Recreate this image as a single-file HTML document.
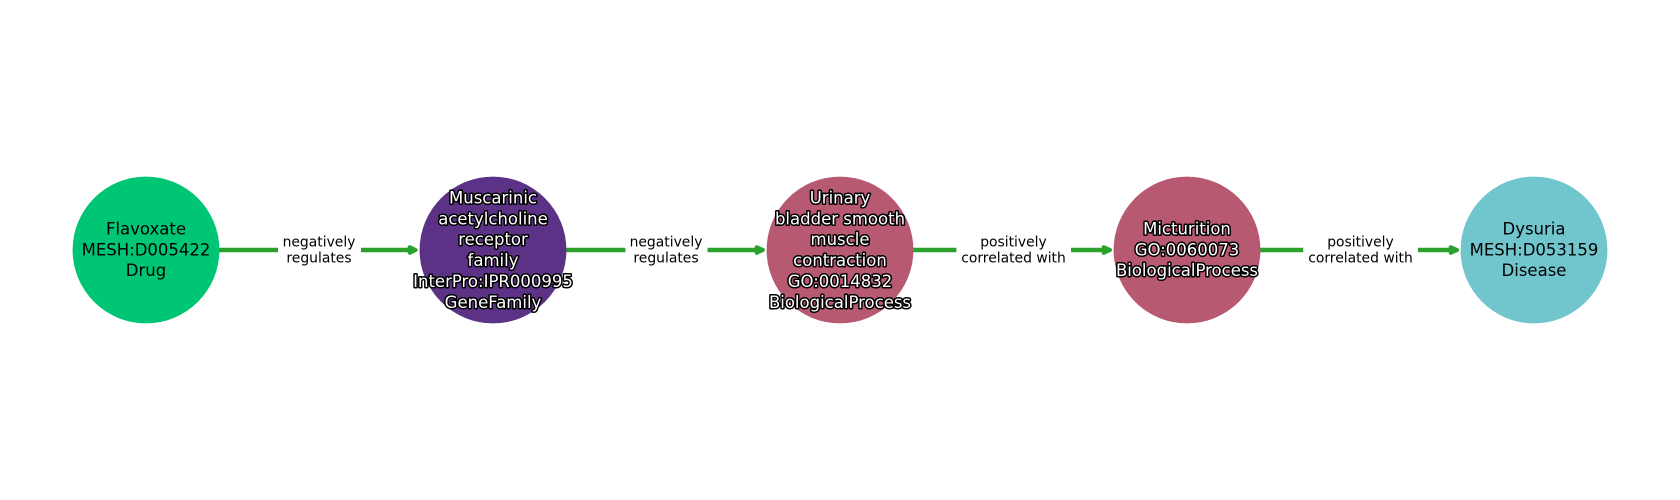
<!DOCTYPE html>
<html><head><meta charset="utf-8"><style>
html,body{margin:0;padding:0;background:#fff}
svg{display:block}
text{font-family:"DejaVu Sans",sans-serif;text-anchor:middle}
.n{font-size:16.5px;fill:#000}
.h{font-size:16.5px;fill:#fff;stroke:#000;stroke-width:3px;paint-order:stroke;stroke-linejoin:round}
.e{font-size:13.9px;fill:#000}
line{stroke:#2ca02c;stroke-width:4.4}
polygon{fill:#2ca02c;stroke:#2ca02c;stroke-width:4;stroke-linejoin:round}
</style></head><body>
<svg width="1680" height="500" viewBox="0 0 1680 500" xmlns="http://www.w3.org/2000/svg">
<rect width="1680" height="500" fill="#fff"/>
<line x1="219" y1="250" x2="278" y2="250"/><line x1="361" y1="250" x2="412" y2="250"/><polygon points="409.7,247.2 415.6,250 409.7,252.8"/>
<line x1="566" y1="250" x2="625.4" y2="250"/><line x1="707.5" y1="250" x2="759" y2="250"/><polygon points="756.7,247.2 762.9,250 756.7,252.8"/>
<line x1="913" y1="250" x2="956.4" y2="250"/><line x1="1071" y1="250" x2="1106" y2="250"/><polygon points="1103.7,247.2 1110,250 1103.7,252.8"/>
<line x1="1260" y1="250" x2="1303.2" y2="250"/><line x1="1417.9" y1="250" x2="1453" y2="250"/><polygon points="1450.7,247.2 1457,250 1450.7,252.8"/>
<circle cx="146" cy="250" r="73.4" fill="#00c574"/>
<circle cx="493" cy="250" r="73.4" fill="#5b3285"/>
<circle cx="840" cy="250" r="73.4" fill="#b75970"/>
<circle cx="1187" cy="250" r="73.4" fill="#b75970"/>
<circle cx="1534" cy="250" r="73.4" fill="#70c6cc"/>
<text class="n" x="146" y="234.3">Flavoxate</text>
<text class="n" x="146" y="255.3">MESH:D005422</text>
<text class="n" x="146" y="276">Drug</text>
<text class="h" x="493" y="203.3">Muscarinic</text>
<text class="h" x="493" y="224.3">acetylcholine</text>
<text class="h" x="493" y="245">receptor</text>
<text class="h" x="493" y="266">family</text>
<text class="h" x="493" y="287">InterPro:IPR000995</text>
<text class="h" x="493" y="308">GeneFamily</text>
<text class="h" x="840" y="203.3">Urinary</text>
<text class="h" x="840" y="224.3">bladder smooth</text>
<text class="h" x="840" y="245">muscle</text>
<text class="h" x="840" y="266">contraction</text>
<text class="h" x="840" y="287">GO:0014832</text>
<text class="h" x="840" y="308">BiologicalProcess</text>
<text class="h" x="1187" y="234.3">Micturition</text>
<text class="h" x="1187" y="255.3">GO:0060073</text>
<text class="h" x="1187" y="276">BiologicalProcess</text>
<text class="n" x="1534" y="234.3">Dysuria</text>
<text class="n" x="1534" y="255.3">MESH:D053159</text>
<text class="n" x="1534" y="276">Disease</text>
<text class="e" x="319" y="246.3">negatively</text><text class="e" x="319" y="262.3">regulates</text>
<text class="e" x="666" y="246.3">negatively</text><text class="e" x="666" y="262.3">regulates</text>
<text class="e" x="1013.5" y="246.3">positively</text><text class="e" x="1013.5" y="262.3">correlated with</text>
<text class="e" x="1360.5" y="246.3">positively</text><text class="e" x="1360.5" y="262.3">correlated with</text>
</svg>
</body></html>
